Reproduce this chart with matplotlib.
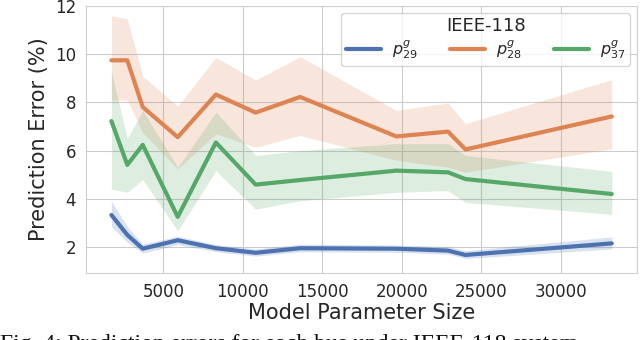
import numpy as np
import matplotlib
matplotlib.use("Agg")
import matplotlib.pyplot as plt
import seaborn as sns

sns.set_style("whitegrid")
plt.rcParams['font.family'] = ['DejaVu Sans']

# model parameter sizes
sizes = [1730, 2730, 3700, 5900, 8300, 10800, 13600, 19650, 22900, 24000, 33200]

# p^g_29 (blue)
p29 = [3.33, 2.50, 1.93, 2.28, 1.95, 1.76, 1.95, 1.93, 1.85, 1.67, 2.15]
p29_lo = [2.85, 2.20, 1.75, 2.10, 1.80, 1.62, 1.80, 1.78, 1.70, 1.52, 1.92]
p29_hi = [3.90, 2.85, 2.12, 2.45, 2.10, 1.92, 2.12, 2.08, 2.02, 1.85, 2.42]

# p^g_28 (orange)
p28 = [9.75, 9.75, 7.81, 6.56, 8.33, 7.58, 8.23, 6.59, 6.79, 6.05, 7.42]
p28_lo = [8.10, 8.10, 6.75, 5.24, 6.70, 6.14, 6.63, 5.60, 5.31, 5.10, 6.08]
p28_hi = [11.6, 11.47, 9.09, 7.84, 9.87, 8.93, 9.90, 7.67, 7.98, 7.12, 8.95]

# p^g_37 (green)
p37 = [7.23, 5.41, 6.24, 3.25, 6.34, 4.59, 4.78, 5.17, 5.10, 4.82, 4.20]
p37_lo = [4.41, 4.27, 4.80, 2.67, 5.17, 3.57, 3.92, 4.27, 4.34, 3.85, 3.36]
p37_hi = [9.27, 6.50, 7.67, 5.31, 7.60, 5.80, 6.00, 6.29, 6.29, 5.80, 5.14]

labels = [r'$p^g_{29}$', r'$p^g_{28}$', r'$p^g_{37}$']
colors = sns.color_palette("deep")[:3]

fig = plt.figure(figsize=(6.4, 3.4), dpi=100)
ax = fig.add_axes([0.135, 0.197, 0.86, 0.785])

series = [(p29, p29_lo, p29_hi), (p28, p28_lo, p28_hi), (p37, p37_lo, p37_hi)]
for (m, lo, hi), lab, c in zip(series, labels, colors):
    ax.fill_between(sizes, lo, hi, color=c, alpha=0.2, linewidth=0)
    ax.plot(sizes, m, color=c, lw=3, label=lab)

ax.set_ylim(0.92, 12)
ax.set_yticks([2, 4, 6, 8, 10, 12])
ax.set_xticks([5000, 10000, 15000, 20000, 25000, 30000])
ax.tick_params(labelsize=12, colors='#262626', pad=4)
ax.set_xlabel('Model Parameter Size', fontsize=15, color='#262626', labelpad=1)
ax.set_ylabel('Prediction Error (%)', fontsize=15, color='#262626')
for s in ax.spines.values():
    s.set_color('#d0d0d0')

leg = ax.legend(title='IEEE-118', ncol=3, loc='upper right', fontsize=11.5,
                title_fontsize=13, handlelength=2.2, columnspacing=2.0,
                handletextpad=0.7, borderpad=0.3, labelspacing=0.2,
                borderaxespad=0.4)

# caption, cut off by the bottom edge as in the source
fig.text(0.0, -0.03, 'Fig. 4: Prediction errors for each bus under IEEE-118 system.',
         family='Liberation Serif', fontsize=17, va='baseline', color='#111111')

fig.savefig('out.png', dpi=100)
